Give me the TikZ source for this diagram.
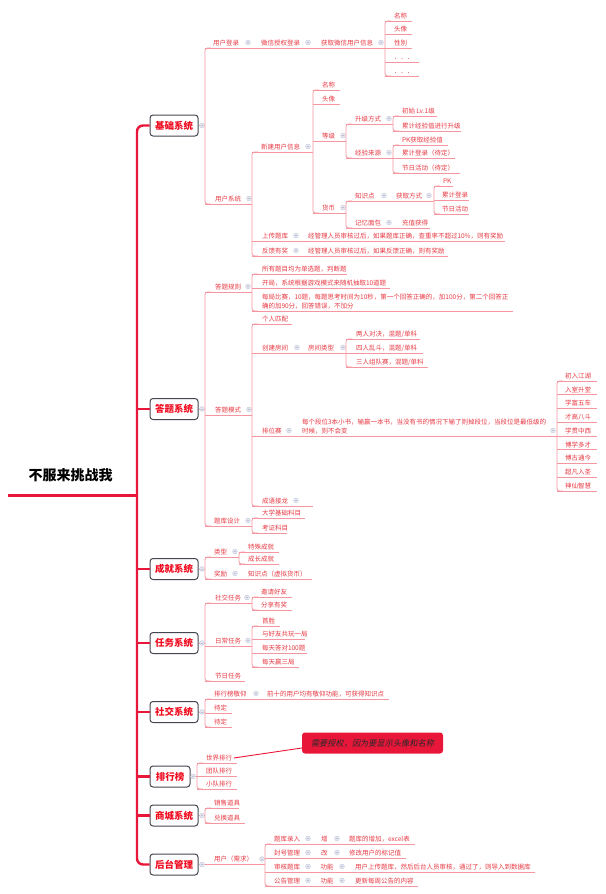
\documentclass[tikz,border=0pt]{standalone}
\usepackage{fontspec}
\setmainfont{Noto Sans CJK SC}
\newfontfamily\cjkit[FakeSlant=0.2]{Noto Sans CJK SC}
\definecolor{trunkred}{RGB}{232,23,58}
\definecolor{txtred}{RGB}{232,58,68}
\definecolor{brpink}{RGB}{245,150,160}
\definecolor{circfill}{RGB}{230,232,242}
\definecolor{circline}{RGB}{185,190,210}
\definecolor{boxgray}{RGB}{70,70,80}
\definecolor{mred}{RGB}{240,10,30}
\tikzset{
  txt/.style={anchor=base west, inner sep=0pt, outer sep=0pt, font=\fontsize{6.5}{8}\selectfont, text=txtred},
  br/.style={draw=brpink, line width=0.8pt},
  trunk/.style={draw=trunkred, line width=2.4pt},
  mbox/.style={draw=boxgray, line width=1pt, rounded corners=3pt, fill=white, minimum width=48pt, minimum height=21pt, inner sep=0pt, font=\fontsize{9.5}{10}\selectfont\bfseries, text=mred},
  callout/.style={fill=trunkred, rounded corners=3pt, minimum width=141pt, minimum height=21pt, inner sep=0pt, font=\cjkit\fontsize{8.2}{9}\selectfont, text={rgb,255:red,40;green,40;blue,40}}
}
\newcommand\Tx[4]{\node[txt] (#1) at (#2,#3-2.6) {#4};}
\newcommand\Ci[2]{\filldraw[fill=circfill, draw=circline, line width=0.25pt] (#1,#2-5.5) circle (2.4pt); \draw[circline, line width=0.45pt] (#1-1.2,#2-5.5) -- (#1+1.2,#2-5.5);}
\newcommand\Cb[2]{\filldraw[fill=circfill, draw=circline, line width=0.25pt] (#1,#2) circle (2.4pt); \draw[circline, line width=0.45pt] (#1-1.2,#2) -- (#1+1.2,#2);}
\newcommand\Ul[3]{\draw[br] (#1,#3) -- (#2,#3);}
\newcommand\Vb[3]{\draw[br, rounded corners=2.5pt] (#1+6,#2) -- (#1,#2) -- (#1,#3) -- (#1+6,#3);}
\begin{document}
\begin{tikzpicture}[x=1pt,y=-1pt]
\useasboundingbox (0,0) rectangle (605,894);
\fill[white] (0,0) rectangle (605,894);

% ---------- root and trunk ----------
\node[font=\fontsize{14}{16}\selectfont\bfseries, text=black, inner sep=0pt] (root) at (70.5,475) {不服来挑战我};
\node[mbox] (jc) at (174,125.5) {基础系统};
\node[mbox] (dt) at (174,409) {答题系统};
\node[mbox] (cj) at (174,569) {成就系统};
\node[mbox] (rw) at (174,643) {任务系统};
\node[mbox] (sj) at (174,712) {社交系统};
\node[mbox, minimum width=40pt] (ph) at (170,776.5) {排行榜};
\node[mbox] (sc) at (174,815.5) {商城系统};
\node[mbox] (ht) at (174,864.5) {后台管理};
\coordinate (rootend) at (137,495);
\draw[trunkred, line width=3pt] (8,495) -- (rootend);
\draw[trunk, rounded corners=6pt] (jc.west) -| (rootend) |- (ht.west);
\foreach \b in {dt,cj,rw,sj,ph,sc} \draw[trunk] (\b.west) -- ++(-13,0);

% ---------- 基础系统 ----------
\draw[br] (jc.east) -- (205,125.5); \Cb{202}{125.5}
\Vb{205}{48}{204}
\Ul{205}{385}{48}
\Tx{a1}{213}{48}{用户登录} \Ci{248}{48}
\Tx{a2}{261}{48}{微信授权登录} \Ci{308}{48}
\Tx{a3}{321}{48}{获取微信用户信息} \Ci{381}{48}
\Vb{385}{21}{76}
\Ul{385}{412}{21}\Tx{a4}{394}{21}{名称}
\Ul{385}{412}{34.5}\Tx{a5}{394}{34.5}{头像}
\Ul{385}{412}{48}\Tx{a6}{394}{48}{性别}
\Ul{385}{419}{62}\Tx{a7}{394}{62}{．．．}
\Ul{385}{419}{76}\Tx{a8}{394}{76}{．．．}

\Ul{205}{252}{204}\Tx{b1}{215}{204}{用户系统}\Ci{249}{204}
\Vb{252}{152}{256}
\Ul{252}{313}{152}\Tx{b2}{261}{152}{新建用户信息}\Ci{308}{152}
\Vb{313}{90}{213}
\Ul{313}{340}{90}\Tx{b3}{322}{90}{名称}
\Ul{313}{340}{104}\Tx{b4}{322}{104}{头像}
\Ul{313}{346}{141}\Tx{b5}{322}{141}{等级}\Ci{343}{141}
\Vb{346}{124}{158}
\Ul{346}{393}{124}\Tx{b6}{355}{124}{升级方式}\Ci{389}{124}
\Vb{393}{116}{131}
\Ul{393}{437}{116}\Tx{b7}{402}{116}{初始 Lv.1级}
\Ul{393}{461}{131}\Tx{b8}{402}{131}{累计经验值进行升级}
\Ul{346}{393}{158}\Tx{b9}{355}{158}{经验来源}\Ci{389}{158}
\Vb{393}{145}{173}
\Ul{393}{448}{145}\Tx{b10}{402}{145}{PK获取经验值}
\Ul{393}{455}{158}\Tx{b11}{402}{158}{累计登录（待定）}
\Ul{393}{460}{173}\Tx{b12}{402}{173}{节日活动（待定）}
\Ul{313}{346}{213}\Tx{b13}{322}{213}{货币}\Ci{343}{213}
\Vb{346}{201}{228}
\Ul{346}{434}{201}\Tx{b14}{355}{201}{知识点}\Ci{384}{201}\Tx{b15}{396}{201}{获取方式}\Ci{429}{201}
\Vb{434}{186}{214}
\Ul{434}{453}{186}\Tx{b16}{443}{186}{PK}
\Ul{434}{469}{200}\Tx{b17}{442}{200}{累计登录}
\Ul{434}{469}{214}\Tx{b18}{442}{214}{节日活动}
\Ul{346}{430}{228}\Tx{b19}{355}{228}{记忆面包}\Ci{389}{228}\Tx{b20}{402}{228}{充值获得}
\Ul{252}{505}{241}\Tx{b21}{262}{241}{上传题库}\Ci{296}{241}\Tx{b22}{308}{241}{经管理人员审核过后，如果题库正确，查重率不超过10\%，则有奖励}
\Ul{252}{448}{256}\Tx{b23}{262}{256}{反馈有奖}\Ci{296}{256}\Tx{b24}{308}{256}{经管理人员审核过后，如果反馈正确，则有奖励}

% ---------- 答题系统 ----------
\draw[br] (dt.east) -- (205,409); \Cb{202}{409}
\Vb{205}{292}{526}
\Ul{205}{252}{292}\Tx{c1}{215}{292}{答题规则}\Ci{248}{292}
\Vb{252}{274}{311}
\Ul{252}{347}{274}\Tx{c2}{262}{274}{所有题目均为单选题，判断题}
\Ul{252}{390}{288}\Tx{c3}{262}{288}{开局，系统根据游戏模式来随机抽取10道题}
\Ul{252}{513}{311}\Tx{c4}{262}{302}{每局比赛，10题，每题思考时间为10秒，第一个回答正确的，加100分，第二个回答正}\Tx{c5}{262}{311}{确的加90分，回答错误，不加分}
\Ul{205}{252}{415}\Tx{c6}{215}{415}{答题模式}\Ci{249}{415}
\Vb{252}{324}{506}
\Ul{252}{292}{324}\Tx{c7}{262}{324}{个人匹配}
\Ul{252}{346}{353}\Tx{c8}{262}{353}{创建房间}\Ci{297}{353}\Tx{c9}{308}{353}{房间类型}\Ci{343}{353}
\Vb{346}{339}{367}
\Ul{346}{420}{339}\Tx{c10}{356}{339}{两人对决，混题/单科}
\Ul{346}{423}{353}\Tx{c11}{356}{353}{四人乱斗，混题/单科}
\Ul{346}{428}{367}\Tx{c12}{356}{367}{三人组队赛，混题/单科}
\Ul{252}{557}{436}\Tx{c13}{262}{436}{排位赛}\Ci{289}{436}
\Tx{c14}{302}{427.5}{每个段位3本小书，输赢一本书，当没有书的情况下输了则掉段位，当段位是最低级的}
\Tx{c15}{302}{436}{时候，则不会变}
\Ci{553}{436}
\Vb{557}{381}{491}
\foreach \r [count=\i from 0] in {初入江湖,入室升堂,学富五车,才高八斗,学贯中西,博学多才,博古通今,超凡入圣,神仙智慧} {
  \pgfmathsetmacro\yy{381+13.75*\i}
  \Ul{557}{597}{\yy}\Tx{rk\i}{565}{\yy}{\r}
}
\Ul{252}{313}{506}\Tx{c16}{262}{506}{成语接龙}\Ci{296}{506}
\Ul{205}{252}{526}\Tx{c17}{214}{526}{题库设计}\Ci{248}{526}
\Vb{252}{518}{533}
\Ul{252}{305}{518}\Tx{c18}{262}{518}{大学基础科目}
\Ul{252}{287}{533}\Tx{c19}{262}{533}{考证科目}

% ---------- 成就系统 ----------
\draw[br] (cj.east) -- (205,569); \Cb{202}{569}
\Vb{205}{557}{579}
\Ul{205}{239}{557}\Tx{d1}{214}{557}{类型}\Ci{235}{557}
\Vb{239}{552}{564}
\Ul{239}{279}{552}\Tx{d2}{248}{552}{特殊成就}
\Ul{239}{279}{564}\Tx{d3}{248}{564}{成长成就}
\Ul{205}{312}{579}\Tx{d4}{214}{579}{奖励}\Ci{235}{579}\Tx{d5}{248}{579}{知识点（虚拟货币）}

% ---------- 任务系统 ----------
\draw[br] (rw.east) -- (205,643); \Cb{202}{643}
\Vb{205}{603}{681}
\Ul{205}{252}{603}\Tx{e1}{215}{603}{社交任务}\Ci{247}{603}
\Vb{252}{597}{610}
\Ul{252}{292}{597}\Tx{e2}{261}{597}{邀请好友}
\Ul{252}{292}{610}\Tx{e3}{261}{610}{分享有奖}
\Ul{205}{252}{646}\Tx{e4}{215}{646}{日常任务}\Ci{248}{646}
\Vb{252}{626}{667}
\Ul{252}{280}{626}\Tx{e5}{262}{626}{首胜}
\Ul{252}{305}{639}\Tx{e6}{262}{639}{与好友共玩一局}
\Ul{252}{307}{653}\Tx{e7}{262}{653}{每天答对100题}
\Ul{252}{299}{667}\Tx{e8}{262}{667}{每天赢三局}
\Ul{205}{245}{681}\Tx{e9}{215}{681}{节日任务}

% ---------- 社交系统 ----------
\draw[br] (sj.east) -- (205,712); \Cb{202}{712}
\Vb{205}{699}{727}
\Ul{205}{389}{699}\Tx{f1}{214}{699}{排行榜敬仰}\Ci{256}{699}\Tx{f2}{267}{699}{前十的用户均有敬仰功能，可获得知识点}
\Ul{205}{232}{713}\Tx{f3}{214}{713}{待定}
\Ul{205}{232}{727}\Tx{f4}{214}{727}{待定}

% ---------- 排行榜 ----------
\draw[br] (ph.east) -- (197,776.5); \Cb{193}{776.5}
\Vb{197}{763}{789}
\Ul{197}{237}{763}\Tx{g1}{206}{763}{世界排行}
\Ul{197}{237}{776}\Tx{g2}{206}{776}{团队排行}
\Ul{197}{237}{789}\Tx{g3}{206}{789}{小队排行}
\node[callout] (note) at (372.5,743) {需要授权，因为要显示头像和名称};
\draw[trunkred, line width=0.9pt] ([xshift=2pt]g1.east) -- ([yshift=-5pt]note.west);

% ---------- 商城系统 ----------
\draw[br] (sc.east) -- (205,815.5); \Cb{202}{815.5}
\Vb{205}{808}{823}
\Ul{205}{239}{808}\Tx{h1}{214}{808}{销售道具}
\Ul{205}{245}{823}\Tx{h2}{214}{823}{兑换道具}

% ---------- 后台管理 ----------
\draw[br] (ht.east) -- (265,864.5); \Cb{202}{864.5}
\Tx{i1}{214}{864.5}{用户（需求）}\Ci{262}{864.5}
\Vb{265}{844}{886}
\Ul{265}{415}{844}\Tx{i2}{274}{844}{题库录入}\Ci{308}{844}\Tx{i3}{321}{844}{增}\Ci{337}{844}\Tx{i4}{349}{844}{题库的增加，excel表}
\Ul{265}{406}{858}\Tx{i5}{274}{858}{封号管理}\Ci{308}{858}\Tx{i6}{321}{858}{改}\Ci{337}{858}\Tx{i7}{349}{858}{修改用户的标记值}
\Ul{265}{535}{872}\Tx{i8}{274}{872}{审核题库}\Ci{308}{872}\Tx{i9}{320.5}{872}{功能}\Ci{342}{872}\Tx{i10}{355}{872}{用户上传题库，然后后台人员审核，通过了，则导入到数据库}
\Ul{265}{418}{886}\Tx{i11}{274}{886}{公告管理}\Ci{308}{886}\Tx{i12}{320.5}{886}{功能}\Ci{342}{886}\Tx{i13}{355}{886}{更新每周公告的内容}
\end{tikzpicture}
\end{document}
